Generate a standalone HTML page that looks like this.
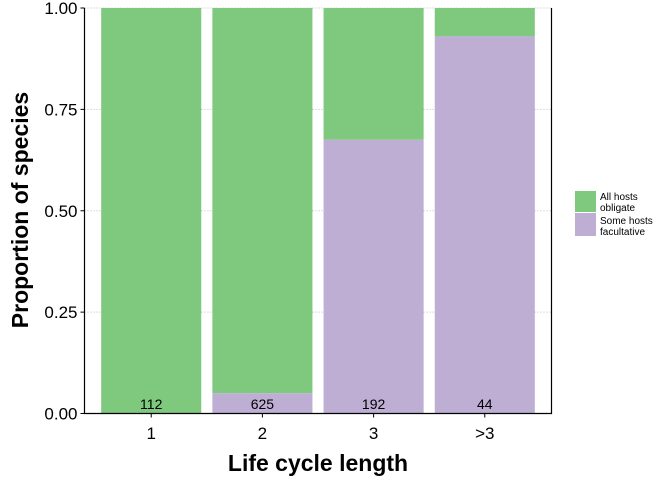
<!DOCTYPE html>
<html><head><meta charset="utf-8"><style>
body{margin:0;background:#fff;}
svg{font-family:"Liberation Sans",Arial,sans-serif;}
</style></head><body>
<svg id="chart" width="672" height="480" xmlns="http://www.w3.org/2000/svg">
<g id="grid"></g><g id="bars"></g><g id="axes"></g>
<g>
<rect x="575" y="191" width="21" height="21" fill="#7fc97f"/>
<rect x="575" y="213" width="21" height="23" fill="#beaed4"/>
<text x="600" y="200" font-size="10">All hosts</text>
<text x="600" y="211" font-size="10">obligate</text>
<text x="600" y="224" font-size="10">Some hosts</text>
<text x="600" y="235" font-size="10">facultative</text>
</g>
<text x="318" y="471" text-anchor="middle" font-size="23" font-weight="bold">Life cycle length</text>
<text transform="translate(28,210) rotate(-90)" text-anchor="middle" font-size="23" font-weight="bold">Proportion of species</text>
</svg>
<script>
const categories=["1","2","3",">3"];
const facultative=[0,0.05,0.675,0.93];
const counts=["112","625","192","44"];
const yTicks=[0,0.25,0.5,0.75,1];
const yTickLabels=["0.00","0.25","0.50","0.75","1.00"];
const NS="http://www.w3.org/2000/svg";
const L=84.5,R=551.5,T=8,B=413.5;
const step=(R-L)/(categories.length-1+1.2);
const x=i=>L+step*(i+0.6);
const y=v=>B-(B-T)*v;
function mk(tag,attrs,parent){const e=document.createElementNS(NS,tag);for(const k in attrs)e.setAttribute(k,attrs[k]);parent.appendChild(e);return e;}
const g=document.getElementById('grid'),b=document.getElementById('bars'),a=document.getElementById('axes');
yTicks.forEach((t,i)=>{
 const l=mk('line',{x1:L,x2:R,y1:y(t),y2:y(t),stroke:'#bbb','stroke-dasharray':'1,2','stroke-width':1},g);
 
 
 const tk=mk('line',{x1:L-4,x2:L,y1:y(t),y2:y(t),stroke:'#000'},a);
 
 
 const tx=mk('text',{x:L-7,y:y(t)+6,'text-anchor':'end','font-size':17},a);
 tx.textContent=yTickLabels[i];
 
 
});
const bw=step*0.9;
categories.forEach((c,i)=>{
 const x0=x(i)-bw/2;
 const gr=mk('rect',{x:x0,y:y(1),width:bw,height:y(facultative[i])-y(1),fill:'#7fc97f'},b);
 
 
 const pu=mk('rect',{x:x0,y:y(facultative[i]),width:bw,height:y(0)-y(facultative[i]),fill:'#beaed4'},b);
 
 
 const ct=mk('text',{x:x(i),y:409,'text-anchor':'middle','font-size':14},b);
 ct.textContent=counts[i];
 
 
 const tk=mk('line',{x1:x(i),x2:x(i),y1:B,y2:B+4,stroke:'#000'},a);
 
 
 const tl=mk('text',{x:x(i),y:439,'text-anchor':'middle','font-size':17},a);
 tl.textContent=c;
 
 
});
const fr=mk('path',{d:`M${L},${T} V${B} H${R} V${T}`,fill:'none',stroke:'#000','stroke-width':1.2},a);


</script>
</body></html>
